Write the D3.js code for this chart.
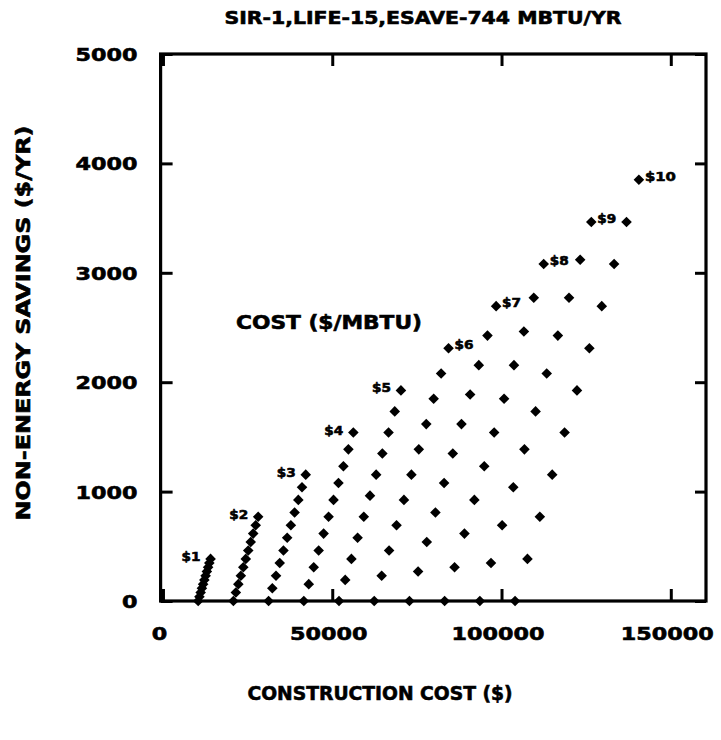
<!DOCTYPE html>
<html>
<head>
<meta charset="utf-8">
<script src="https://cdn.jsdelivr.net/npm/d3@7"></script>
<style>
  html, body { margin: 0; padding: 0; background: #fff; }
  svg { display: block; }
  text { font-family: "DejaVu Sans", sans-serif; font-weight: bold; fill: #000; stroke: #000; stroke-width: 0.6px; }
</style>
</head>
<body>
<svg id="chart" width="721" height="740"></svg>
<script>
// Energy cost levels ($/MBTU), one diamond series each
const costLabels = ["$1", "$2", "$3", "$4", "$5", "$6", "$7", "$8", "$9", "$10"];

// Construction cost ($) of each point, per cost level
const constructionCost = [
  [10400, 10770, 11130, 11500, 11860, 12230, 12600, 12960, 13330, 13690, 14060],
  [20800, 21530, 22260, 23000, 23730, 24460, 25190, 25920, 26650, 27390, 28120],
  [31200, 32300, 33390, 34490, 35590, 36690, 37780, 38880, 39980, 41070, 42170],
  [41600, 43060, 44530, 45990, 47450, 48920, 50380, 51840, 53300, 54770, 56230],
  [52000, 53830, 55660, 57490, 59320, 61150, 62970, 64800, 66630, 68460, 70290],
  [62400, 64600, 66790, 68990, 71180, 73380, 75570, 77770, 79960, 82160, 84350],
  [72800, 75360, 77920, 80480, 83040, 85610, 88170, 90730, 93290, 95850, 98410],
  [83200, 86130, 89050, 91980, 94900, 97830, 100760, 103680, 106610, 109530, 112460],
  [93600, 96890, 100180, 103480, 106770, 110060, 113350, 116640, 119940, 123230, 126520],
  [104000, 107660, 111320, 114970, 118630, 122290, 125950, 129610, 133260, 136920, 140580]
];

// Non-energy savings ($/yr) of each point, per cost level
const nonEnergySavings = [
  [0, 39, 77, 116, 154, 193, 231, 270, 308, 347, 385],
  [0, 77, 154, 231, 308, 385, 462, 539, 616, 693, 770],
  [0, 116, 231, 347, 462, 578, 693, 809, 924, 1040, 1155],
  [0, 154, 308, 462, 616, 770, 924, 1078, 1232, 1386, 1540],
  [0, 193, 385, 578, 770, 963, 1155, 1348, 1540, 1733, 1925],
  [0, 231, 462, 693, 924, 1155, 1386, 1617, 1848, 2079, 2310],
  [0, 270, 539, 809, 1078, 1348, 1617, 1887, 2156, 2426, 2695],
  [0, 308, 616, 924, 1232, 1540, 1848, 2156, 2464, 2772, 3080],
  [0, 347, 693, 1040, 1386, 1733, 2079, 2426, 2772, 3119, 3465],
  [0, 385, 770, 1155, 1540, 1925, 2310, 2695, 3080, 3465, 3850]
];

const xTickValues = [0, 50000, 100000, 150000];
const yTickValues = [0, 1000, 2000, 3000, 4000, 5000];

const titleText = "SIR-1,LIFE-15,ESAVE-744 MBTU/YR";
const xTitleText = "CONSTRUCTION COST ($)";
const yTitleText = "NON-ENERGY SAVINGS ($/YR)";
const legendTitleText = "COST ($/MBTU)";

const svg = d3.select("#chart");
const frame = { left: 160.6, right: 706, top: 54, bottom: 601 };

const x = d3.scaleLinear().domain([-700, 160400]).range([frame.left, frame.right]);
const y = d3.scaleLinear().domain([0, 5000]).range([frame.bottom, frame.top]);

const DIGIT_W = 15.5;

// Filled square-on-point diamond
const diamond = {
  draw(context, size) {
    const r = Math.sqrt(size / 2);
    context.moveTo(0, -r);
    context.lineTo(r, 0);
    context.lineTo(0, r);
    context.lineTo(-r, 0);
    context.closePath();
  }
};

// Axes: ticks point inward on all four sides
function styleAxis(g) {
  g.select(".domain").remove();
  g.selectAll(".tick line").attr("stroke", "#000").attr("stroke-width", 3);
  g.selectAll(".tick text")
    .attr("font-family", "DejaVu Sans, sans-serif")
    .attr("font-weight", "bold")
    .attr("font-size", 18)
    .attr("fill", "#000")
    .attr("lengthAdjust", "spacingAndGlyphs")
    .attr("textLength", function () { return this.textContent.length * DIGIT_W; });
}

const fmt = d3.format("d");

svg.append("g")
  .attr("transform", `translate(0,${frame.bottom})`)
  .call(d3.axisBottom(x).tickValues(xTickValues).tickFormat(fmt).tickSize(-12).tickPadding(26))
  .call(styleAxis)
  .call(g => g.selectAll(".tick text").attr("dx", -4));

svg.append("g")
  .attr("transform", `translate(0,${frame.top})`)
  .call(d3.axisTop(x).tickValues(xTickValues).tickFormat("").tickSize(-12))
  .call(styleAxis);

svg.append("g")
  .attr("transform", `translate(${frame.left},0)`)
  .call(d3.axisLeft(y).tickValues(yTickValues).tickFormat(fmt).tickSize(-12).tickPadding(23))
  .call(styleAxis)
  .call(g => g.selectAll(".tick text").attr("dy", "0.36em"));

svg.append("g")
  .attr("transform", `translate(${frame.right},0)`)
  .call(d3.axisRight(y).tickValues(yTickValues).tickFormat("").tickSize(-11))
  .call(styleAxis);

// Plot frame
svg.append("rect")
  .attr("x", frame.left).attr("y", frame.top)
  .attr("width", frame.right - frame.left).attr("height", frame.bottom - frame.top)
  .attr("fill", "none").attr("stroke", "#000").attr("stroke-width", 3.2);

// Diamond series
const series = costLabels.map((label, i) => ({
  label,
  points: constructionCost[i].map((c, j) => ({ x: c, y: nonEnergySavings[i][j] }))
}));

const symbolPath = d3.symbol().type(diamond).size(56)();

const sg = svg.append("g");
series.forEach(s => {
  sg.selectAll(null)
    .data(s.points)
    .join("path")
    .attr("d", symbolPath)
    .attr("transform", d => `translate(${x(d.x)},${y(d.y)})`)
    .attr("fill", "#000");
});

// Cost labels next to the top point of each series
series.forEach((s, i) => {
  const top = s.points[s.points.length - 1];
  const onLeft = i < 5;
  svg.append("text")
    .attr("x", x(top.x) + (onLeft ? -10 : 6))
    .attr("y", y(top.y) + (onLeft ? 2 : 1))
    .attr("text-anchor", onLeft ? "end" : "start")
    .attr("font-size", 13)
    .attr("lengthAdjust", "spacingAndGlyphs")
    .attr("textLength", s.label.length === 3 ? 31 : 19)
    .text(s.label);
});

// Titles
svg.append("text")
  .attr("x", 423).attr("y", 24)
  .attr("text-anchor", "middle")
  .attr("font-size", 17)
  .attr("lengthAdjust", "spacingAndGlyphs")
  .attr("textLength", 397)
  .text(titleText);

svg.append("text")
  .attr("x", 380).attr("y", 700)
  .attr("text-anchor", "middle")
  .attr("font-size", 19)
  .attr("lengthAdjust", "spacingAndGlyphs")
  .attr("textLength", 265)
  .text(xTitleText);

svg.append("text")
  .attr("transform", "translate(30,323) rotate(-90)")
  .attr("text-anchor", "middle")
  .attr("font-size", 19)
  .attr("lengthAdjust", "spacingAndGlyphs")
  .attr("textLength", 395)
  .text(yTitleText);

svg.append("text")
  .attr("x", 329).attr("y", 329)
  .attr("text-anchor", "middle")
  .attr("font-size", 19)
  .attr("lengthAdjust", "spacingAndGlyphs")
  .attr("textLength", 186)
  .text(legendTitleText);
</script>
</body>
</html>
